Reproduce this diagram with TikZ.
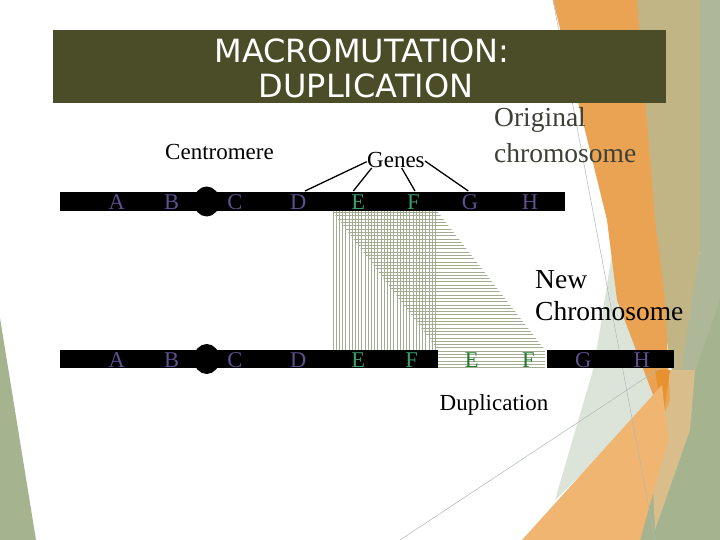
\documentclass[tikz,border=0pt]{standalone}
\usepackage{fontspec}
\usetikzlibrary{shapes.geometric}
\setmainfont{Liberation Serif}
\newfontfamily\titlefont{DejaVu Sans}
\definecolor{olivebox}{HTML}{4A4D27}
\definecolor{lpurple}{HTML}{5E4F8F}
\definecolor{lgreen}{HTML}{3A9E6E}
\definecolor{dgreen}{HTML}{1F7A2A}
\definecolor{hatchc}{HTML}{A3AB93}
\definecolor{greytext}{HTML}{3F3F38}
\definecolor{bgorange}{HTML}{E9A352}
\definecolor{bgorangedk}{HTML}{E8912F}
\definecolor{bglorange}{HTML}{F0B570}
\definecolor{bgkhaki}{HTML}{C2B585}
\definecolor{bggreen}{HTML}{AEB898}
\definecolor{bggreendk}{HTML}{A5B48F}
\definecolor{bgpale}{HTML}{DCE4DA}
\definecolor{bgtan}{HTML}{D9BE8C}
\definecolor{bgline}{HTML}{B0B8B8}
\begin{document}
\begin{tikzpicture}[x=1pt,y=-1pt,
  letter/.style={inner sep=0, anchor=base, font=\fontsize{22.5}{26}\selectfont},
  purp/.style={text=lpurple},
  grn/.style={text=lgreen},
  dgrn/.style={text=dgreen},
  label/.style={inner sep=0, anchor=base west, font=\fontsize{23}{27}\selectfont},
  biglabel/.style={inner sep=0, anchor=base west, align=left, font=\fontsize{27.5}{33}\selectfont},
  titletext/.style={inner sep=0, anchor=base, text=white, font=\titlefont\fontsize{32}{35}\selectfont},
  bar/.style={fill=black, inner sep=0, draw=none},
  centro/.style={fill=black, ellipse, inner sep=0, minimum width=26pt, minimum height=30pt},
  hatch/.style={draw=hatchc, line width=0.65pt},
  geneline/.style={draw=black, line width=1.3pt},
  bgl/.style={draw=bgline, line width=0.5pt}]
\useasboundingbox (0,0) rectangle (720,540);
\fill[white] (0,0) rectangle (720,540);
% background theme shapes
\fill[bggreendk] (0,318) -- (36,540) -- (0,540) -- cycle;
\fill[bgkhaki] (630,0) -- (705,0) -- (700,250) -- (680,420) -- (660,300) -- cycle;
\fill[bggreen] (700,0) -- (720,0) -- (720,540) -- (630,540) -- (672,430) -- (700,250) -- cycle;
\fill[bggreendk] (720,300) -- (720,540) -- (635,540) -- (675,430) -- cycle;
\fill[bgtan] (665,370) -- (695,370) -- (690,430) -- (655,530) -- (652,470) -- cycle;
\fill[bgpale] (612,253) -- (650,350) -- (662,395) -- (555,500) -- (593,370) -- (600,330) -- cycle;
\fill[bgorange] (553,0) -- (637,0) -- (655,220) -- (665,300) -- (670,400) -- (663,417) -- (655,400) -- (617,300) -- (607,220) -- cycle;
\fill[bgorangedk] (655,370) -- (670,370) -- (663,417) -- cycle;
\fill[bglorange] (662,385) -- (522,540) -- (640,540) -- (668,440) -- cycle;
\draw[bgl] (553,0) -- (655,540);
\draw[bgl] (400,540) -- (680,355);
% title
\node[fill=olivebox, inner sep=0, minimum width=613pt, minimum height=73pt] (titlebox) at (359.5,66.5) {};
\node[titletext] (title1) at (362,63) {MACROMUTATION:};
\node[titletext] (title2) at (366,98) {DUPLICATION};
% labels
\node[label] (centromere) at (165,160) {Centromere};
\node[label] (genes) at (367,168) {Genes};
\node[biglabel, text=greytext] (orig1) at (494,127) {Original};
\node[biglabel, text=greytext] (orig2) at (494,163) {chromosome};
\node[biglabel] (new1) at (535,288) {New};
\node[biglabel] (new2) at (535,320) {Chromosome};
\node[label, anchor=base] (dup) at (494,410) {Duplication};
% hatching (duplicated region)
\begin{scope}
\clip (332,211) rectangle (437,350);
\foreach \x in {333,336.2,...,436} \draw[hatch] (\x,211) -- (\x,350);
\end{scope}
\begin{scope}
\clip (332,211) -- (437,211) -- (545,350) -- (545,368) -- (438,368) -- (438,350) -- cycle;
\foreach \y in {212.5,215.8,...,368} \draw[hatch] (330,\y) -- (550,\y);
\end{scope}
% top chromosome
\node[bar, minimum width=505pt, minimum height=19pt] (topbar) at (312.5,201.5) {};
\node[centro] (topcen) at (206.7,201.5) {};
\node[letter, purp] (tA) at (116.7,210) {A};
\node[letter, purp] (tB) at (171.7,210) {B};
\node[letter, purp] (tC) at (235,210) {C};
\node[letter, purp] (tD) at (298.3,210) {D};
\node[letter, grn] (tE) at (358.3,210) {E};
\node[letter, grn] (tF) at (413.3,210) {F};
\node[letter, purp] (tG) at (470,210) {G};
\node[letter, purp] (tH) at (530,210) {H};
% bottom chromosome
\node[bar, minimum width=377.7pt, minimum height=18pt] (botbarL) at (248.85,359) {};
\node[bar, minimum width=127.3pt, minimum height=18pt] (botbarR) at (610.35,359) {};
\node[centro] (botcen) at (206.7,359) {};
\node[letter, purp] (bA) at (116.7,367) {A};
\node[letter, purp] (bB) at (171.7,367) {B};
\node[letter, purp] (bC) at (235,367) {C};
\node[letter, purp] (bD) at (298.3,367) {D};
\node[letter, grn] (bE) at (358.3,367) {E};
\node[letter, grn] (bF) at (411.7,367) {F};
\node[letter, dgrn] (bE2) at (471.7,367) {E};
\node[letter, dgrn] (bF2) at (528.3,367) {F};
\node[letter, purp] (bG) at (583.3,367) {G};
\node[letter, purp] (bH) at (641.7,367) {H};
% gene pointer lines
\coordinate (g1) at (366.7,161.7);
\coordinate (g2) at (371.7,168);
\coordinate (g3) at (401.7,168);
\coordinate (g4) at (425,161);
\coordinate (pD) at (305,191);
\coordinate (pE) at (353.3,191);
\coordinate (pF) at (415,191);
\coordinate (pG) at (468.3,191);
\draw[geneline] (g1) -- (pD);
\draw[geneline] (g2) -- (pE);
\draw[geneline] (g3) -- (pF);
\draw[geneline] (g4) -- (pG);
\end{tikzpicture}
\end{document}
